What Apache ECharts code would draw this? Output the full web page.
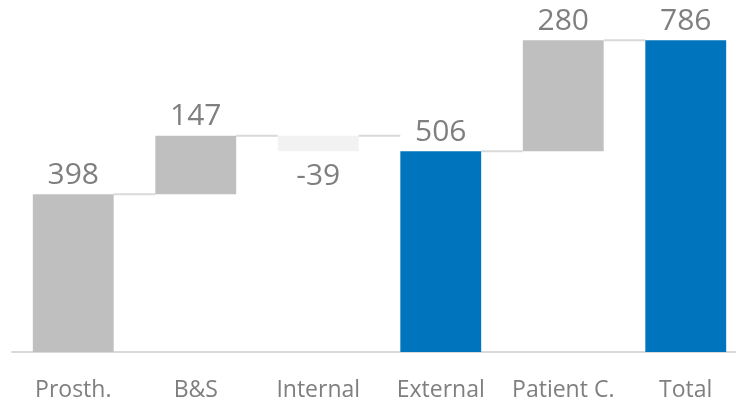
<!DOCTYPE html>
<html><head><meta charset="utf-8">
<script src="https://cdn.jsdelivr.net/npm/echarts@6/dist/echarts.min.js"></script>
<style>html,body{margin:0;padding:0;background:#fff;overflow:hidden}#c{width:736px;height:403px}</style>
</head><body><div id="c"></div>
<script>
const categories = ['Prosth.', 'B&S', 'Internal', 'External', 'Patient C.', 'Total'];
const values = [398, 147, -39, 506, 280, 786];
const kinds = ['delta', 'delta', 'delta', 'total', 'delta', 'total'];
const labels = ['398', '147', '-39', '506', '280', '786'];

const GRAY = '#bfbfbf', LIGHT = '#f2f2f2', BLUE = '#0075be', TXT = '#7f7f7f', LINE = '#d9d9d9';

const base = [], height = [];
let run = 0;
values.forEach((v, i) => {
  if (kinds[i] === 'total') { base.push(0); height.push(v); run = v; }
  else if (v >= 0) { base.push(run); height.push(v); run += v; }
  else { run += v; base.push(run); height.push(-v); }
});

const barData = height.map((h, i) => {
  const neg = values[i] < 0;
  return {
    value: h,
    itemStyle: { color: kinds[i] === 'total' ? BLUE : (neg ? LIGHT : GRAY) },
    label: { position: neg ? 'bottom' : 'top', distance: neg ? 10 : 4, formatter: labels[i] }
  };
});

// connectors at the top of each bar, to the next bar
const connData = [];
for (let i = 0; i < categories.length - 1; i++) {
  connData.push([i, base[i] + height[i]]);
}

const BW = 0.66;
const chart = echarts.init(document.getElementById('c'));
chart.setOption({
  animation: false,
  grid: { left: 12, top: 3, width: 735, bottom: 51, containLabel: false, outerBoundsMode: 'none' },
  xAxis: {
    type: 'category', data: categories,
    axisLine: { lineStyle: { color: LINE, width: 2 } },
    axisTick: { show: false },
    axisLabel: { color: TXT, fontSize: 23, fontFamily: 'Open Sans', margin: 27, interval: 0 }
  },
  yAxis: { type: 'value', min: 0, max: 880, show: false, splitLine: { show: false } },
  series: [
    { type: 'bar', stack: 'w', data: base, barWidth: (BW * 100) + '%',
      itemStyle: { color: 'transparent' }, silent: true },
    { type: 'bar', stack: 'w', data: barData, barWidth: (BW * 100) + '%',
      label: { show: true, color: TXT, fontSize: 30, fontFamily: 'Open Sans' } },
    { type: 'custom', data: connData, z: 1,
      renderItem: function (params, api) {
        const i = api.value(0), lvl = api.value(1);
        const p = api.coord([i, lvl]);
        const step = api.size([1, 0])[0];
        const bw = step * BW;
        const x1 = p[0] + bw / 2, x2 = p[0] + step - bw / 2;
        return { type: 'line', shape: { x1: x1, y1: p[1], x2: x2, y2: p[1] },
          style: { stroke: LINE, lineWidth: 2 } };
      } }
  ]
});
</script></body></html>
